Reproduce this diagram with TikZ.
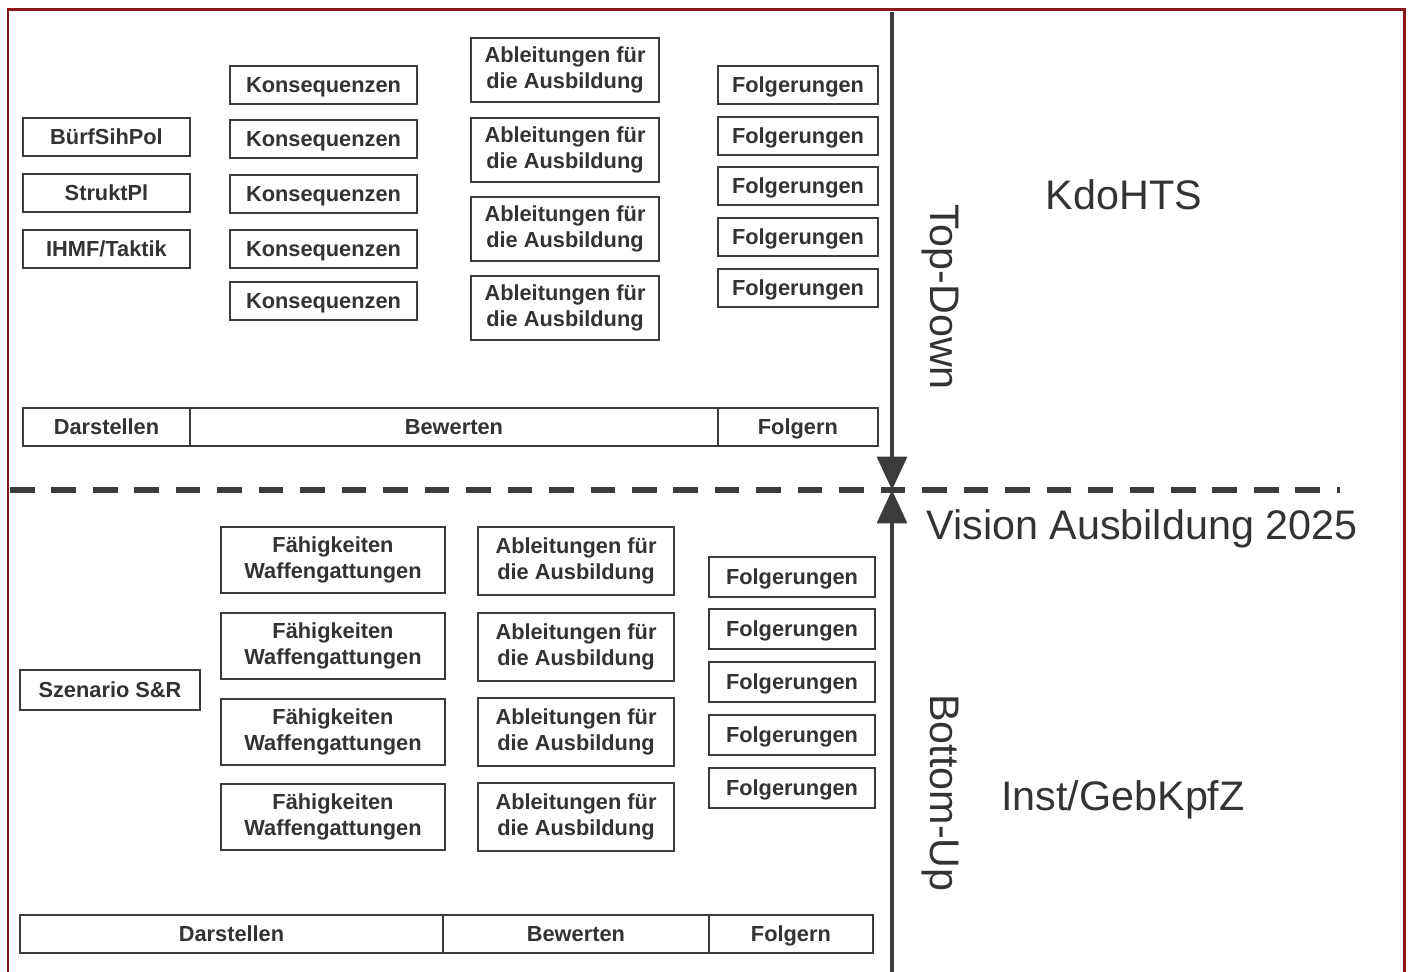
\documentclass[tikz,border=0pt]{standalone}
\usepackage{fontspec}
\setmainfont{Liberation Sans}
\usetikzlibrary{arrows.meta,positioning}
\definecolor{framered}{rgb}{0.55,0.1,0.1}
\definecolor{linegray}{rgb}{0.23,0.23,0.23}
\definecolor{txtgray}{rgb}{0.2,0.2,0.2}

\tikzset{
  box/.style={draw=linegray, line width=1.3pt, fill=white, inner sep=0pt, align=center,
    text=txtgray, font=\bfseries\fontsize{12.4}{14.7}\selectfont},
  oneline/.style={box, text height=10pt, text depth=1.5pt},
  ctxbox/.style={oneline, minimum width=3.34cm, minimum height=0.76cm},
  konsbox/.style={oneline, minimum width=3.74cm, minimum height=0.76cm},
  ablbox/.style={box, minimum width=3.76cm, minimum height=1.28cm},
  folgbox/.style={oneline, minimum width=3.2cm, minimum height=0.76cm},
  szenbox/.style={oneline, minimum width=3.6cm, minimum height=0.8cm},
  faehbox/.style={box, minimum width=4.48cm, minimum height=1.32cm},
  ablboxb/.style={box, minimum width=3.92cm, minimum height=1.36cm},
  folgboxb/.style={oneline, minimum width=3.32cm, minimum height=0.8cm},
  barcell/.style={oneline, outer sep=0pt, minimum height=0.76cm},
  biglabel/.style={text=txtgray, font=\fontsize{23.5}{26}\selectfont, inner sep=0pt},
  flow/.style={draw=linegray, line width=2pt, -{Triangle[length=19pt,width=17pt]}},
  divider/.style={draw=linegray, line width=3pt, dash pattern=on 14pt off 9.6pt},
  frame/.style={draw=framered, line width=1.7pt}
}

\begin{document}
\begin{tikzpicture}[x=0.02cm, y=-0.02cm]
  \useasboundingbox (0,0) rectangle (1408,972);
  \draw[frame] (8,972) -- (8,10) -- (1404,10) -- (1404,972);

  % --- Top half: KdoHTS ---
  \node[ctxbox] (buerf) at (106.5,137) {BürfSihPol};
  \node[ctxbox] (strukt) at (106.5,193) {StruktPl};
  \node[ctxbox] (ihmf) at (106.5,249) {IHMF/Taktik};

  \node[konsbox] (kons1) at (323.5,85) {Konsequenzen};
  \node[konsbox] (kons2) at (323.5,139) {Konsequenzen};
  \node[konsbox] (kons3) at (323.5,194) {Konsequenzen};
  \node[konsbox] (kons4) at (323.5,249) {Konsequenzen};
  \node[konsbox] (kons5) at (323.5,301) {Konsequenzen};

  \node[ablbox] (abl1) at (565,70) {Ableitungen für\\die Ausbildung};
  \node[ablbox] (abl2) at (565,150) {Ableitungen für\\die Ausbildung};
  \node[ablbox] (abl3) at (565,229) {Ableitungen für\\die Ausbildung};
  \node[ablbox] (abl4) at (565,308) {Ableitungen für\\die Ausbildung};

  \node[folgbox] (folg1) at (798,85) {Folgerungen};
  \node[folgbox] (folg2) at (798,136) {Folgerungen};
  \node[folgbox] (folg3) at (798,186) {Folgerungen};
  \node[folgbox] (folg4) at (798,237) {Folgerungen};
  \node[folgbox] (folg5) at (798,288) {Folgerungen};

  % phase bar
  \node[barcell, minimum width=3.34cm] (dar1) at (106.5,427) {Darstellen};
  \node[barcell, minimum width=10.56cm, right=0pt of dar1] (bew1) {Bewerten};
  \node[barcell, minimum width=3.2cm, right=0pt of bew1] (fol1) {Folgern};

  % --- Bottom half: Inst/GebKpfZ ---
  \node[szenbox] (szen) at (110,690) {Szenario S\&R};

  \node[faehbox] (faeh1) at (333,560) {Fähigkeiten\\Waffengattungen};
  \node[faehbox] (faeh2) at (333,646) {Fähigkeiten\\Waffengattungen};
  \node[faehbox] (faeh3) at (333,732) {Fähigkeiten\\Waffengattungen};
  \node[faehbox] (faeh4) at (333,817) {Fähigkeiten\\Waffengattungen};

  \node[ablboxb] (ablb1) at (576,561) {Ableitungen für\\die Ausbildung};
  \node[ablboxb] (ablb2) at (576,647) {Ableitungen für\\die Ausbildung};
  \node[ablboxb] (ablb3) at (576,732) {Ableitungen für\\die Ausbildung};
  \node[ablboxb] (ablb4) at (576,817) {Ableitungen für\\die Ausbildung};

  \node[folgboxb] (folgb1) at (792,577) {Folgerungen};
  \node[folgboxb] (folgb2) at (792,629) {Folgerungen};
  \node[folgboxb] (folgb3) at (792,682) {Folgerungen};
  \node[folgboxb] (folgb4) at (792,735) {Folgerungen};
  \node[folgboxb] (folgb5) at (792,788) {Folgerungen};

  % phase bar
  \node[barcell, minimum width=8.46cm] (dar2) at (231.5,934) {Darstellen};
  \node[barcell, minimum width=5.32cm, right=0pt of dar2] (bew2) {Bewerten};
  \node[barcell, minimum width=3.28cm, right=0pt of bew2] (fol2) {Folgern};

  % --- Divider and directions ---
  \coordinate (dashL) at (10,490);
  \coordinate (dashR) at (1340,490);
  \draw[divider] (dashL) -- (dashR);

  \coordinate (meet) at (892,490);
  \coordinate (topend) at (892,12);
  \coordinate (botend) at (892,972);
  \draw[flow] (topend) -- (meet);
  \draw[flow] (botend) -- (meet);

  \node[biglabel, rotate=-90] (topdown) at (940,297) {Top-Down};
  \node[biglabel, rotate=-90] (bottomup) at (940,793) {Bottom-Up};
  \node[biglabel] (kdo) at (1124,195) {KdoHTS};
  \node[biglabel] (vision) at (1142,529) {Vision Ausbildung 2025};
  \node[biglabel] (inst) at (1123,800) {Inst/GebKpfZ};
\end{tikzpicture}
\end{document}
